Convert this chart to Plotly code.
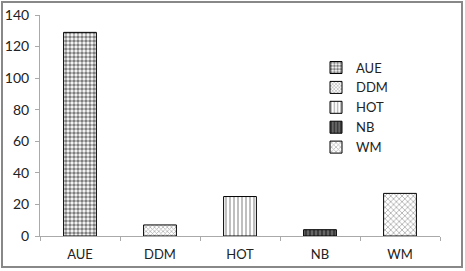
import plotly.graph_objects as go

categories = ["AUE", "DDM", "HOT", "NB", "WM"]
values = [129, 7, 25, 4, 27]
y_ticks = [0, 20, 40, 60, 80, 100, 120, 140]

patterns = {
    "AUE": dict(shape=".", fgcolor="black", bgcolor="white", size=4, solidity=0.6),
    "DDM": dict(shape="x", fgcolor="#666666", bgcolor="white", size=3, solidity=0.45),
    "HOT": dict(shape="|", fgcolor="black", bgcolor="white", size=4, solidity=0.25),
    "NB": dict(shape="|", fgcolor="#111111", bgcolor="#666666", size=4, solidity=0.5),
    "WM": dict(shape="x", fgcolor="#666666", bgcolor="white", size=4, solidity=0.4),
}

fig = go.Figure()
for cat, val in zip(categories, values):
    fig.add_trace(go.Bar(
        x=[cat], y=[val], name=cat, width=0.41,
        marker=dict(color="white", line=dict(color="black", width=1),
                    pattern=patterns[cat]),
    ))

fig.update_layout(
    width=465, height=271,
    margin=dict(l=40, r=25, t=15, b=35),
    paper_bgcolor="white", plot_bgcolor="white",
    barmode="overlay",
    font=dict(family="Lato, Open Sans, sans-serif", size=13, color="#222222"),
    showlegend=True,
    legend=dict(x=0.69, y=0.83, xanchor="left", yanchor="top",
                bgcolor="rgba(0,0,0,0)", font=dict(size=13),
                tracegroupgap=0, itemwidth=30),
    xaxis=dict(categoryorder="array", categoryarray=categories, automargin=False,
               showline=True, linecolor="#aaaaaa", linewidth=1,
               ticks="outside", tickson="boundaries", ticklen=4, tickcolor="#aaaaaa",
               ticklabelstandoff=6, showgrid=False, zeroline=False),
    yaxis=dict(range=[0, 140], tickvals=y_ticks, showline=True, linecolor="#aaaaaa",
               automargin=False, tickfont=dict(size=14),
               linewidth=1, ticks="outside", ticklen=4, tickcolor="#aaaaaa",
               ticklabelstandoff=3, showgrid=False, zeroline=False),
    shapes=[dict(type="rect", xref="paper", yref="paper",
                 x0=-0.095, x1=1.055, y0=-0.14, y1=1.059,
                 line=dict(color="#888888", width=2), layer="below")],
)

fig.write_html("out.html", config={"displayModeBar": False},
               post_script="document.body.style.margin='0';")
